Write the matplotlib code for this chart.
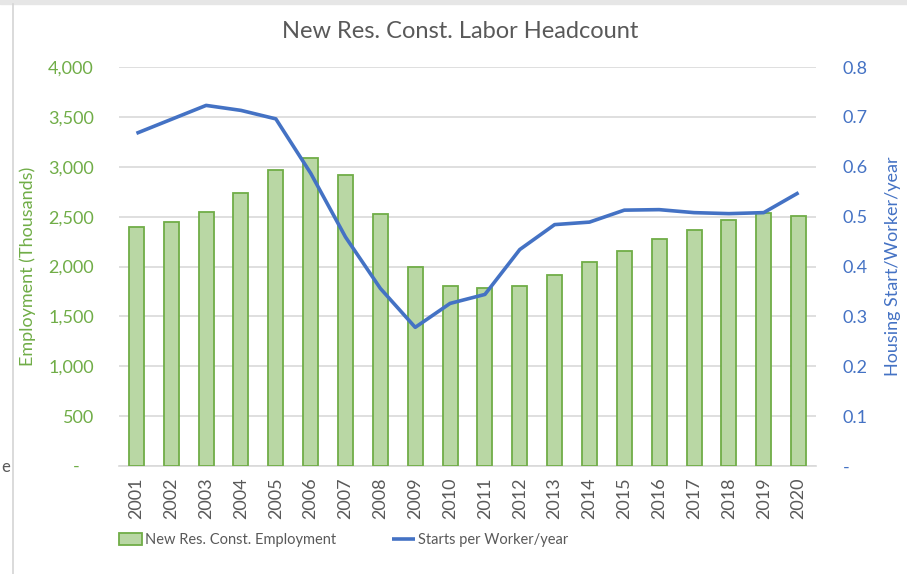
import numpy as np
import matplotlib
matplotlib.use('Agg')
import matplotlib.pyplot as plt
from matplotlib.lines import Line2D
from matplotlib.patches import Rectangle

plt.rcParams['font.family'] = ['Lato', 'DejaVu Sans']

# data
years = [str(y) for y in range(2001, 2021)]
employment = [2400, 2450, 2550, 2740, 2970, 3090, 2920, 2530, 2000, 1800,
              1780, 1800, 1910, 2045, 2160, 2275, 2365, 2465, 2535, 2505]
starts_per_worker = [0.667, 0.695, 0.723, 0.713, 0.696, 0.587, 0.459, 0.356, 0.278, 0.326,
                     0.344, 0.434, 0.484, 0.489, 0.513, 0.514, 0.508, 0.506, 0.508, 0.548]
left_ticks = [0, 500, 1000, 1500, 2000, 2500, 3000, 3500, 4000]
right_ticks = [0, 0.1, 0.2, 0.3, 0.4, 0.5, 0.6, 0.7, 0.8]

green = '#70AD47'
green_fill = '#B9D7A4'
blue = '#4472C4'
gray = '#595959'
grid = '#D9D9D9'

W, H = 907, 574
fig = plt.figure(figsize=(W / 100, H / 100), dpi=100)
ax = fig.add_axes([119 / W, 1 - 466 / H, (816 - 119) / W, (466 - 67) / H])

x = np.arange(len(years))
ax.bar(x, employment, width=0.43, color=green_fill, edgecolor=green, linewidth=1.3,
       zorder=3, label='New Res. Const. Employment')
ax.set_xlim(-0.5, len(years) - 0.5)
ax.set_ylim(0, 4000)
ax.set_yticks(left_ticks)
ax.set_yticklabels(['-   '] + [f'{v:,}' for v in left_ticks[1:]])
ax.yaxis.grid(True, color=grid, linewidth=1.2, zorder=0)
ax.set_axisbelow(True)
ax.set_xticks(x)
ax.set_xticklabels(years, rotation=90)
ax.tick_params(axis='x', length=0, pad=8, labelsize=13, labelcolor=gray)
ax.tick_params(axis='y', length=0, pad=18, labelsize=13, labelcolor=green)
for s in ['top', 'right', 'left']:
    ax.spines[s].set_visible(False)
ax.spines['bottom'].set_color(grid)
ax.spines['bottom'].set_linewidth(1.2)
ax.set_ylabel('Employment (Thousands)', color=green, fontsize=13, va='center')
ax.yaxis.set_label_coords((28 - 119) / 697, 0.5)

ax2 = ax.twinx()
ax2.plot(x, starts_per_worker, color=blue, linewidth=2.6, solid_capstyle='butt',
         label='Starts per Worker/year', zorder=4)
ax2.set_ylim(0, 0.8)
ax2.set_yticks(right_ticks)
ax2.set_yticklabels(['-'] + [f'{v:.1f}' for v in right_ticks[1:]])
ax2.tick_params(axis='y', length=0, pad=19, labelsize=13, labelcolor=blue)
for s in ax2.spines.values():
    s.set_visible(False)
ax2.set_ylabel('Housing Start/Worker/year', color=blue, fontsize=13, va='center')
ax2.yaxis.set_label_coords((893 - 119) / 697, 0.5)

fig.text(460 / W, 1 - 32 / H, 'New Res. Const. Labor Headcount', ha='center', va='center',
         fontsize=17, color=gray)

handles = [ax.patches[0], ax2.lines[0]]
fig.legend(handles, ['New Res. Const. Employment', 'Starts per Worker/year'],
           loc='center left', bbox_to_anchor=(119 / W, 1 - 540 / H), ncol=2, frameon=False,
           fontsize=10.5, labelcolor=gray, handlelength=1.6, handleheight=0.9,
           handletextpad=0.2, columnspacing=3.8, borderpad=0, borderaxespad=0)

# screenshot frame bits
fig.add_artist(Rectangle((0, 1 - 4 / H), 1, 4 / H, transform=fig.transFigure,
                         color='#E6E6E6', zorder=0))
fig.add_artist(Line2D([12.5 / W, 12.5 / W], [0, 1 - 4 / H], transform=fig.transFigure,
                      color='#D4D4D4', linewidth=1.2))
fig.text(1 / W, 1 - 467 / H, 'e', ha='left', va='center', fontsize=12, color=gray)

fig.savefig('out.png', dpi=100)
